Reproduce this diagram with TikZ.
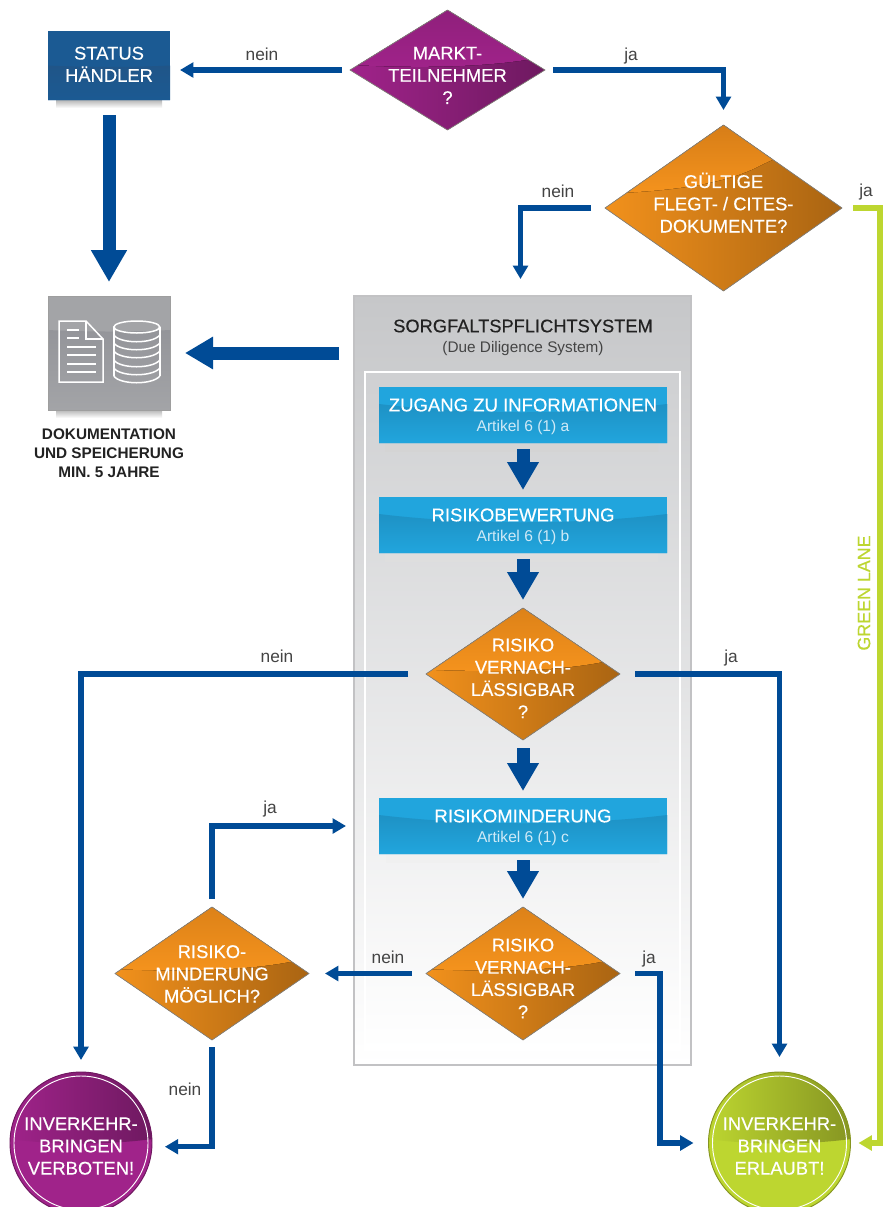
\documentclass[tikz,border=0pt]{standalone}
\usepackage{fontspec}
\setmainfont{Liberation Sans}
\newfontfamily\whiteface[FakeBold=0.35]{Liberation Sans}
\usetikzlibrary{arrows.meta,shapes.geometric}
\newdimen\pxu \pxu=0.75pt
\definecolor{navy}{HTML}{004B96}
\definecolor{lime}{HTML}{BDD630}
\definecolor{edgegray}{HTML}{85827C}
\definecolor{labelgray}{HTML}{444444}
\definecolor{inkdark}{HTML}{222222}
\definecolor{subblue}{HTML}{CFEAF7}
\definecolor{skyblue}{HTML}{21A5DD}
\definecolor{skydark}{HTML}{1E92C5}
\definecolor{orL}{HTML}{F2911C}
\definecolor{orM}{HTML}{D07D18}
\definecolor{orR}{HTML}{A96412}
\definecolor{orTop}{HTML}{D67D17}
\definecolor{orUp}{HTML}{F5931D}
\definecolor{puL}{HTML}{A0238A}
\definecolor{puM}{HTML}{8A1F78}
\definecolor{puR}{HTML}{6E1960}
\definecolor{puTop}{HTML}{8E1F7A}
\definecolor{grB}{HTML}{BDD630}
\definecolor{grR}{HTML}{869522}
\definecolor{statusup}{HTML}{1B5A93}
\definecolor{statuslow}{HTML}{205588}
\definecolor{docup}{HTML}{A3A4A7}
\definecolor{doclow}{HTML}{94959A}
\definecolor{panelTop}{HTML}{C6C7C9}
\definecolor{innerTop}{HTML}{CFD0D2}
\definecolor{panelEdge}{HTML}{C2C2C4}
\newcommand\ztext[2][0pt]{\smash{\raisebox{\dimexpr-.25em-1.9pt+#1\relax}{\makebox[0pt][c]{\begin{tabular}[c]{@{}c@{}}#2\end{tabular}}}}}
\newcommand\ttl{\fontsize{13.8}{16.7}\whiteface}
\newcommand\ttlb{\fontsize{13.9}{15}\whiteface}
\newcommand\subb[1]{{\fontsize{11.7}{15}\selectfont\rmfamily\color{subblue}#1}}
\tikzset{
  dianode/.style={diamond,inner sep=0pt,outer sep=0pt,draw=edgegray,line width=.5pt,font=\ttl,text=white},
  orangepaint/.style={path picture={
    \fill[left color=orL,middle color=orM,right color=orR] (path picture bounding box.south west) rectangle (path picture bounding box.north east);
    \begin{scope}[shift={(path picture bounding box.center)}]
      \fill[top color=orTop,bottom color=orUp] (-130,-85) -- #1 -- (130,-85) -- cycle;
    \end{scope}}},
  purplepaint/.style={path picture={
    \fill[left color=puL,middle color=puM,right color=puR] (path picture bounding box.south west) rectangle (path picture bounding box.north east);
    \begin{scope}[shift={(path picture bounding box.center)}]
      \fill[top color=puTop,bottom color=puL] (-130,-65) -- #1 -- (130,-65) -- cycle;
    \end{scope}}},
  roundnode/.style n args={2}{circle,minimum size=142\pxu,inner sep=0pt,outer sep=0pt,fill=#1,draw=#2,line width=.7pt,font=\ttl,text=white,
    path picture={
      \begin{scope}[shift={(path picture bounding box.center)}]
        \fill[left color=#1,right color=#2] (-72,-72) -- (-72,-4) .. controls (-25,2) and (25,2) .. (72,-4) -- (72,-72) -- cycle;
        \draw[white,line width=.7pt] (0,0) circle (67);
      \end{scope}}},
  bluebox/.style={rectangle,minimum width=288\pxu,minimum height=56\pxu,inner sep=0pt,outer sep=0pt,fill=skyblue,font=\ttlb,text=white,
    path picture={
      \begin{scope}[shift={(path picture bounding box.center)}]
        \fill[top color=skydark,bottom color=skyblue] (-144,-11) .. controls (-54,0) and (54,0) .. (144,-11) -- (144,28) -- (-144,28) -- cycle;
      \end{scope}}},
  conn/.style={draw=navy,line width=3.9pt,line join=miter,-{Triangle[length=10pt,width=11pt]}},
  limeconn/.style={draw=lime,line width=3.9pt,line join=miter,-{Triangle[length=10pt,width=11pt]}},
  bigarrow/.style={draw=navy,line width=9.75pt,-{Triangle[length=24pt,width=25.5pt]}},
  leftarrow/.style={draw=navy,line width=9.75pt,-{Triangle[length=21pt,width=23pt]}},
  smallarrow/.style={draw=navy,line width=9.75pt,-{Triangle[length=21pt,width=22.5pt]}},
  answer/.style={font=\fontsize{13}{15}\selectfont,text=labelgray,inner sep=0pt,text height=9.3pt,text depth=0pt},
  shadowstrip/.style={top color=black!28!#1,bottom color=#1,draw=none},
  docline/.style={draw=white,line width=1.5\pxu}
}
\begin{document}
\begin{tikzpicture}[x=0.75pt,y=-0.75pt]
\useasboundingbox (0,0) rectangle (886,1207);
\clip (0,0) rectangle (886,1207);
\fill[white] (0,0) rectangle (886,1207);

% due diligence panel
\node[rectangle,minimum width=337\pxu,minimum height=769\pxu,inner sep=0pt,outer sep=0pt,top color=panelTop,bottom color=white,draw=panelEdge,line width=.8pt] (dds) at (522.5,680.5) {};
\node[rectangle,minimum width=315\pxu,minimum height=678\pxu,inner sep=0pt,outer sep=0pt,top color=innerTop,bottom color=white,draw=white,line width=2.2pt] (ddsinner) at (522.5,711) {};
\node[inner sep=0pt,text=inkdark,font=\fontsize{13.7}{16}\whiteface] (ddstitle) at (523,326) {SORGFALTSPFLICHTSYSTEM};
\node[inner sep=0pt,text=labelgray,font=\fontsize{11.5}{14}\selectfont] (ddssub) at (523,349) {(Due Diligence System)};

% shadows
\fill[shadowstrip=white] (56,100) rectangle (162,108);
\fill[shadowstrip=white] (56,410) rectangle (162,418);
\fill[shadowstrip=black!17] (385,443) rectangle (658,451);
\fill[shadowstrip=black!13] (385,553) rectangle (658,561);
\fill[shadowstrip=black!6] (386,854) rectangle (659,862);

% status box
\node[rectangle,minimum width=122\pxu,minimum height=69\pxu,inner sep=0pt,outer sep=0pt,fill=statusup,font=\ttl,text=white,
  path picture={
    \begin{scope}[shift={(path picture bounding box.center)}]
      \fill[top color=statuslow,bottom color=statusup] (-61,0) .. controls (-20,2) and (20,2) .. (61,0) -- (61,34.5) -- (-61,34.5) -- cycle;
    \end{scope}}] (status) at (109,65.5) {\ztext[1.2pt]{STATUS\\HÄNDLER}};

% documentation box
\node[rectangle,minimum width=122\pxu,minimum height=114\pxu,inner sep=0pt,outer sep=0pt,fill=docup,draw=black!38,line width=.4pt,
  path picture={
    \begin{scope}[shift={(path picture bounding box.center)}]
      \fill[top color=doclow,bottom color=docup] (-61,-23) .. controls (-20,-21) and (20,-21) .. (61,-23) -- (61,57) -- (-61,57) -- cycle;
    \end{scope}}] (doc) at (109,353) {};
% document icon
\draw[docline,line join=miter] (59,321) -- (86,321) -- (103,339) -- (103,382) -- (59,382) -- cycle;
\draw[docline] (86,321) -- (86,339) -- (103,339);
\draw[docline] (67,330) -- (79,330) (67,338) -- (79,338)
  (67,347) -- (96,347) (67,355) -- (96,355) (67,364) -- (96,364) (67,372) -- (96,372);
% database icon
\draw[docline] (136.8,327) ellipse (23 and 6);
\draw[docline] (113.8,327) -- (113.8,376) (159.8,327) -- (159.8,376);
\foreach \yy in {335,343,351,360,368,376}{
  \draw[docline] (113.8,\yy) .. controls (120,\yy+9) and (153,\yy+9) .. (159.8,\yy);
}
\node[inner sep=0pt,align=center,text=inkdark,font=\fontsize{11.5}{14.25}\selectfont\bfseries] (doccap) at (109,453) {DOKUMENTATION\\UND SPEICHERUNG\\MIN. 5 JAHRE};

% blue process boxes
\node[bluebox] (info) at (523,415) {\ztext{ZUGANG ZU INFORMATIONEN\\\subb{Artikel 6 (1) a}}};
\node[bluebox] (bew) at (523,525) {\ztext{RISIKOBEWERTUNG\\\subb{Artikel 6 (1) b}}};
\node[bluebox] (mind) at (523,826) {\ztext{RISIKOMINDERUNG\\\subb{Artikel 6 (1) c}}};

% decisions
\node[dianode,minimum width=195\pxu,minimum height=120\pxu,purplepaint={(-130,-7) .. controls (-40,-1) and (30,-2) .. (85,-11) -- (130,-40)}] (markt) at (447.5,70) {\ztext[-3.7pt]{MARKT-\\TEILNEHMER\\?}};
\node[dianode,minimum width=237\pxu,minimum height=166\pxu,orangepaint={(-130,-14) .. controls (-60,-16) and (0,-22) .. (40,-44) -- (130,-85)}] (guel) at (723.5,208) {\ztext[3.4pt]{GÜLTIGE\\FLEGT- / CITES-\\DOKUMENTE?}};
\node[dianode,minimum width=194\pxu,minimum height=132\pxu,orangepaint={(-130,-6) .. controls (-40,-1) and (30,-2) .. (80,-12) -- (130,-30)}] (riskone) at (523,674) {\ztext[-3pt]{RISIKO\\VERNACH-\\LÄSSIGBAR\\?}};
\node[dianode,minimum width=194\pxu,minimum height=133\pxu,orangepaint={(-130,-6) .. controls (-40,-1) and (30,-2) .. (80,-12) -- (130,-30)}] (risktwo) at (523,973.5) {\ztext[-3.4pt]{RISIKO\\VERNACH-\\LÄSSIGBAR\\?}};
\node[dianode,minimum width=194\pxu,minimum height=133\pxu,orangepaint={(-130,-6) .. controls (-40,-1) and (30,-2) .. (80,-12) -- (130,-30)}] (moeg) at (212,973.5) {\ztext{RISIKO-\\MINDERUNG\\MÖGLICH?}};

% outcomes
\node[roundnode={puL}{puR}] (verboten) at (81,1143) {\ztext[-1.9pt]{INVERKEHR-\\BRINGEN\\VERBOTEN!}};
\node[roundnode={grB}{grR}] (erlaubt) at (779.5,1143) {\ztext[-1.9pt]{INVERKEHR-\\BRINGEN\\ERLAUBT!}};

% turning points
\coordinate (limeturn) at (880,208);
\coordinate (twoturn) at (660,973.5);

% connectors
\draw[conn,shorten <=8\pxu,shorten >=10\pxu] (markt.west) -- (markt.west -| status.east);
\draw[conn,shorten <=8\pxu,shorten >=15\pxu] (markt.east) -| (guel.north);
\draw[conn,shorten <=14\pxu,shorten >=17\pxu] (guel.west) -| ([xshift=-1.5pt]dds.north);
\draw[limeconn,shorten <=11\pxu,shorten >=8\pxu] (guel.east) -- (limeturn) |- (erlaubt.east);
\draw[bigarrow,shorten <=15\pxu,shorten >=14\pxu] (status.south) -- (doc.north);
\draw[leftarrow,shorten <=15\pxu,shorten >=15\pxu] (doc.east -| dds.west) -- (doc.east);
\draw[smallarrow,shorten <=6\pxu,shorten >=7\pxu] (info.south) -- (bew.north);
\draw[smallarrow,shorten <=6\pxu,shorten >=8\pxu] (bew.south) -- (riskone.north);
\draw[smallarrow,shorten <=8\pxu,shorten >=7\pxu] (riskone.south) -- (mind.north);
\draw[smallarrow,shorten <=6\pxu,shorten >=8\pxu] (mind.south) -- (risktwo.north);
\draw[conn,shorten <=18\pxu,shorten >=12\pxu] (riskone.west) -| (verboten.north);
\draw[conn,shorten <=15\pxu,shorten >=15\pxu] (riskone.east) -| (erlaubt.north);
\draw[conn,shorten <=8\pxu,shorten >=33\pxu] (moeg.north) |- (mind.west);
\draw[conn,shorten <=14\pxu,shorten >=16\pxu] (risktwo.west) -- (moeg.east);
\draw[conn,shorten <=15\pxu,shorten >=15\pxu] (risktwo.east) -- (twoturn) |- (erlaubt.west);
\draw[conn,shorten <=7\pxu,shorten >=13\pxu] (moeg.south) |- (verboten.-3);

% answers
\node[answer] (a1) at (262,54) {nein};
\node[answer] (a2) at (631,54) {ja};
\node[answer] (a3) at (558,191) {nein};
\node[answer] (a4) at (866,190) {ja};
\node[answer] (a5) at (277,656) {nein};
\node[answer] (a6) at (731,656) {ja};
\node[answer] (a7) at (270,807) {ja};
\node[answer] (a8) at (388,957) {nein};
\node[answer] (a9) at (649,957) {ja};
\node[answer] (a10) at (185,1089) {nein};
\node[inner sep=0pt,text=lime,rotate=90,font=\fontsize{13.4}{15}\whiteface] (lane) at (864,593) {GREEN LANE};
\end{tikzpicture}
\end{document}
